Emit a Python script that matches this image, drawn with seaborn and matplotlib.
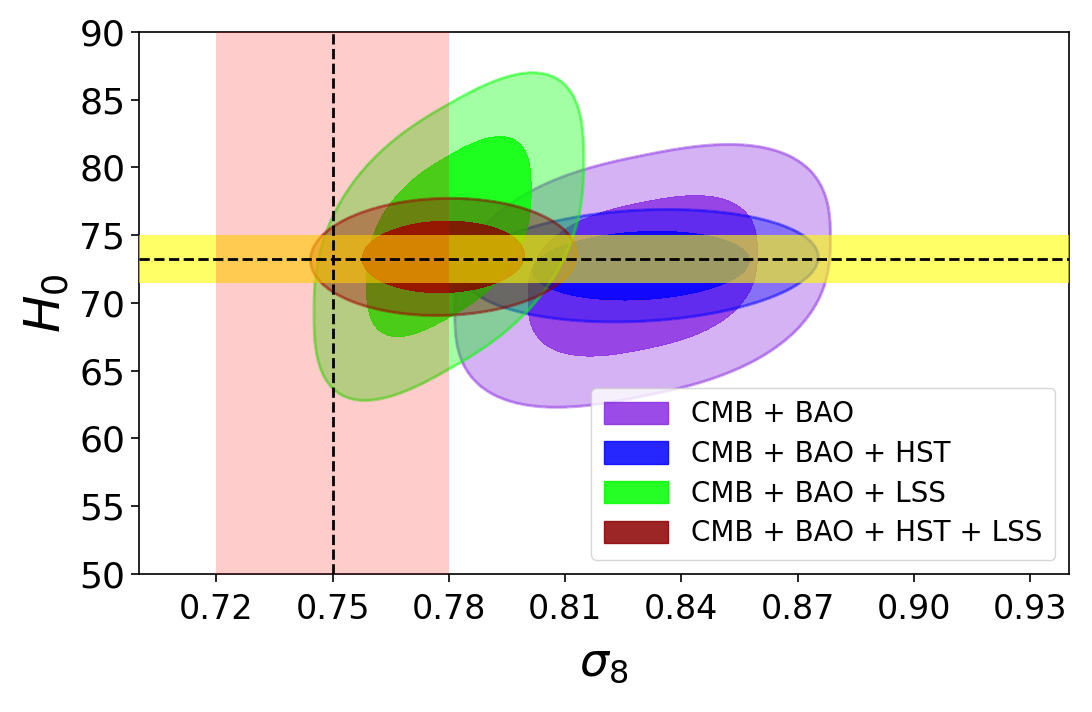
import numpy as np
import matplotlib
matplotlib.use("Agg")
import matplotlib.pyplot as plt
import matplotlib.patches as mpatches
import seaborn as sns

# summaries of each posterior (sigma_8, H_0)
labels = ["CMB + BAO", "CMB + BAO + HST", "CMB + BAO + LSS", "CMB + BAO + HST + LSS"]
colors = ["#8a2be2", "#0000ff", "#00ff00", "#8b0000"]
mean_s8 = [0.830, 0.8296, 0.780, 0.7786]
mean_h0 = [72.0, 72.75, 74.9, 73.4]
sd_s8 = [0.0195, 0.0184, 0.0140, 0.0138]
sd_h0 = [3.75, 1.67, 4.55, 1.74]
rho = [0.3, 0.15, 0.5, 0.05]
shape_p = [2.6, 2.0, 2.6, 2.0]  # 2 = gaussian, larger = boxier contours

# external measurements
s8_lo, s8_hi, s8_ref = 0.72, 0.78, 0.75
h0_ref, h0_err = 73.24, 1.74

chi2_levels = [2.30, 6.17]  # 68% / 95% for 2 parameters
xticks = [0.72, 0.75, 0.78, 0.81, 0.84, 0.87, 0.90, 0.93]
yticks = [50, 55, 60, 65, 70, 75, 80, 85, 90]

sns.set_style("ticks")
plt.rcParams['font.family'] = ['DejaVu Sans']
plt.rcParams['mathtext.fontset'] = 'dejavusans'
plt.rcParams['text.color'] = 'black'
plt.rcParams['axes.labelcolor'] = 'black'
plt.rcParams['xtick.color'] = 'black'
plt.rcParams['ytick.color'] = 'black'

fig = plt.figure(figsize=(10.92, 7.12), dpi=100)
ax = fig.add_axes([0.127, 0.194, 0.852, 0.761])

gx = np.linspace(0.70, 0.94, 600)
gy = np.linspace(50, 90, 600)
X, Y = np.meshgrid(gx, gy)

for i in range(len(labels)):
    u = (X - mean_s8[i]) / sd_s8[i]
    dy = (Y - mean_h0[i]) / sd_h0[i]
    r = rho[i]
    v = (dy - r * u) / np.sqrt(1 - r**2)
    p = shape_p[i]
    dist2 = (np.abs(u)**p + np.abs(v)**p)**(2.0 / p)
    ax.contourf(X, Y, dist2, levels=[chi2_levels[0], chi2_levels[1]], colors=[colors[i]], alpha=0.36, zorder=2)
    ax.contourf(X, Y, dist2, levels=[0, chi2_levels[0]], colors=[colors[i]], alpha=0.88, zorder=2)
    ax.contour(X, Y, dist2, levels=[chi2_levels[1]], colors=[colors[i]], alpha=0.45, linewidths=2.2, zorder=2)

# reference bands on top (pink over yellow)
ax.axhspan(h0_ref - h0_err, h0_ref + h0_err, color="yellow", alpha=0.6, lw=0, zorder=3)
ax.axvspan(s8_lo, s8_hi, color="red", alpha=0.2, lw=0, zorder=3.5)
ax.axvline(s8_ref, color="black", ls="--", lw=2, zorder=4)
ax.axhline(h0_ref, color="black", ls="--", lw=2, zorder=4)

ax.set_xlim(0.70, 0.94)
ax.set_ylim(50, 90)
ax.set_xticks(xticks)
ax.set_xticklabels([f"{t:.2f}" for t in xticks])
ax.set_yticks(yticks)
ax.tick_params(axis="x", labelsize=24, length=6, width=1.2, pad=8)
ax.tick_params(axis="y", labelsize=26, length=6, width=1.2)
for s in ax.spines.values():
    s.set_linewidth(1.2)
    s.set_color("black")
ax.set_xlabel(r"$\sigma_8$", fontsize=33, labelpad=10)
ax.set_ylabel(r"$H_0$", fontsize=36, labelpad=6)

handles = [mpatches.Patch(facecolor=c, edgecolor=c, alpha=0.85, label=l) for c, l in zip(colors, labels)]
leg = ax.legend(handles=handles, loc="lower right", prop={"size": 20}, frameon=True,
                handlelength=2.3, handleheight=0.85, handletextpad=0.85, labelspacing=0.42,
                borderpad=0.45, borderaxespad=0.5)
leg.set_zorder(10)

fig.savefig("out.png", dpi=100)
